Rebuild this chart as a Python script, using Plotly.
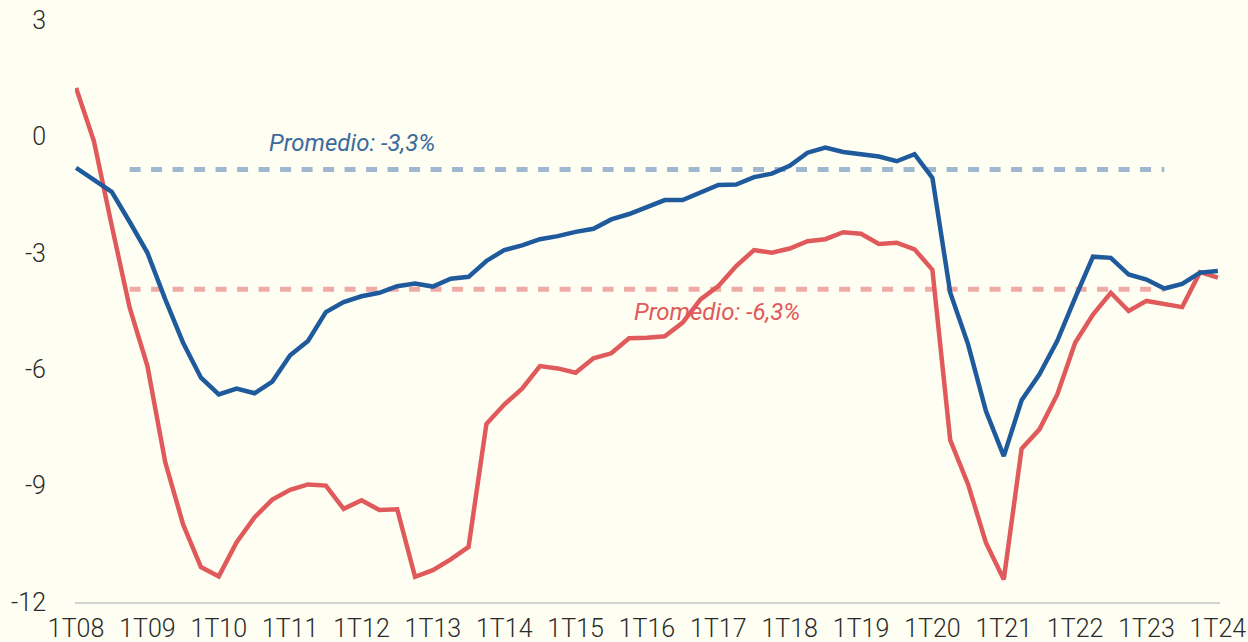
import plotly.graph_objects as go

# Quarterly categories 1T08 .. 1T24
years = list(range(8, 25))
quarters = [f"{q}T{y:02d}" for y in years for q in (1, 2, 3, 4)][:65]
tick_labels = [f"1T{y:02d}" for y in years]

serie_roja = [1.25, -0.12, -2.3, -4.41, -5.92, -8.40, -10.0, -11.1, -11.34, -10.46,
              -9.82, -9.36, -9.11, -8.97, -9.0, -9.6, -9.38, -9.63, -9.61, -11.35,
              -11.18, -10.9, -10.58, -7.41, -6.91, -6.5, -5.92, -5.98, -6.09, -5.72,
              -5.59, -5.2, -5.19, -5.15, -4.80, -4.2, -3.86, -3.34, -2.93, -3.0,
              -2.89, -2.70, -2.65, -2.47, -2.51, -2.77, -2.74, -2.91, -3.44, -7.83,
              -8.97, -10.47, -11.42, -8.05, -7.55, -6.65, -5.32, -4.59, -4.03, -4.50,
              -4.24, -4.33, -4.40, -3.50, -3.64]

serie_azul = [-0.81, -1.12, -1.43, -2.2, -3.0, -4.2, -5.32, -6.22, -6.65, -6.5,
              -6.62, -6.32, -5.64, -5.27, -4.53, -4.27, -4.12, -4.03, -3.86, -3.79,
              -3.87, -3.67, -3.62, -3.21, -2.93, -2.81, -2.65, -2.57, -2.46, -2.38,
              -2.14, -2.0, -1.81, -1.64, -1.64, -1.44, -1.25, -1.24, -1.05, -0.96,
              -0.76, -0.42, -0.29, -0.40, -0.45, -0.52, -0.64, -0.46, -1.07, -4.03,
              -5.36, -7.08, -8.24, -6.80, -6.13, -5.27, -4.16, -3.10, -3.13, -3.56,
              -3.69, -3.92, -3.80, -3.51, -3.47]

# Average reference lines (drawn level) and their span
promedio_azul_nivel = -0.85
promedio_roja_nivel = -3.94
promedio_inicio = 3
promedio_fin = 61
promedio_azul_texto = "Promedio: -3,3%"
promedio_roja_texto = "Promedio: -6,3%"

y_ticks = [3, 0, -3, -6, -9, -12]

BG = "#FEFEF2"
AZUL = "#1F5B9C"
ROJO = "#E05A5B"
AZUL_CLARO = "#9FB7CF"
ROJO_CLARO = "#F0AAA5"
FONT = "Roboto"

fig = go.Figure()

span = quarters[promedio_inicio:promedio_fin + 1]
fig.add_trace(go.Scatter(x=span, y=[promedio_azul_nivel] * len(span), mode="lines",
                         line=dict(color=AZUL_CLARO, width=5, dash="11px,10.5px"),
                         hoverinfo="skip", showlegend=False))
fig.add_trace(go.Scatter(x=span, y=[promedio_roja_nivel] * len(span), mode="lines",
                         line=dict(color=ROJO_CLARO, width=5, dash="11px,10.5px"),
                         hoverinfo="skip", showlegend=False))

fig.add_trace(go.Scatter(x=quarters, y=serie_roja, mode="lines",
                         line=dict(color=ROJO, width=4.5), showlegend=False))
fig.add_trace(go.Scatter(x=quarters, y=serie_azul, mode="lines",
                         line=dict(color=AZUL, width=4.5), showlegend=False))

fig.add_annotation(x=15.45, y=-0.17, xref="x", yref="y", text=promedio_azul_texto,
                   showarrow=False, xanchor="center", yanchor="middle",
                   font=dict(family=FONT, size=24, color="#3D6A9B", style="italic"))
fig.add_annotation(x=35.9, y=-4.52, xref="x", yref="y", text=promedio_roja_texto,
                   showarrow=False, xanchor="center", yanchor="middle",
                   font=dict(family=FONT, size=24, color=ROJO, style="italic"))

fig.update_layout(
    width=1248, height=642,
    paper_bgcolor=BG, plot_bgcolor=BG,
    margin=dict(l=75, r=28, t=20, b=40, autoexpand=False),
    showlegend=False,
    xaxis=dict(type="category", categoryorder="array", categoryarray=quarters,
               range=[-0.06, 64.12], tickmode="array", tickvals=tick_labels,
               ticktext=tick_labels, showgrid=False, zeroline=False,
               showline=True, linecolor="#D2D2D2", linewidth=1.5,
               ticks="", ticklabelstandoff=3, automargin=False,
               tickfont=dict(family=FONT, size=25, color="#2A2A2A", weight=300)),
    yaxis=dict(range=[-12, 3], tickmode="array", tickvals=y_ticks,
               ticktext=[str(v) for v in y_ticks], showgrid=False, zeroline=False,
               showline=False, ticks="", ticklabelstandoff=28, automargin=False,
               tickfont=dict(family=FONT, size=25, color="#2A2A2A", weight=300)),
)

fig.write_html(
    "out.html",
    config={"displayModeBar": False},
    post_script=("document.body.style.margin='0';"
                 "document.body.style.padding='0';"
                 "document.body.style.background='" + BG + "';"
                 "document.body.style.overflow='hidden';"),
)
